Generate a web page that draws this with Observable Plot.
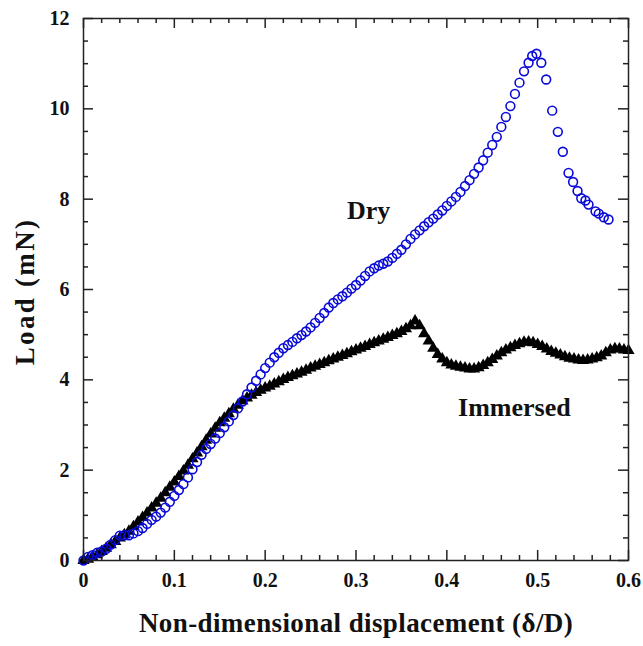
<!DOCTYPE html>
<html>
<head>
<meta charset="utf-8">
<script src="https://cdn.jsdelivr.net/npm/d3@7"></script>
<script src="https://cdn.jsdelivr.net/npm/@observablehq/plot@0.6"></script>
</head>
<body style="margin:0">
<div id="chart"></div>
<script>
// ---- Data ----
const dryX = [0,0.005,0.01,0.015,0.02,0.025,0.03,0.035,0.04,0.045,0.05,0.055,0.06,0.065,0.07,0.075,0.08,0.085,0.09,0.095,
  0.1,0.105,0.11,0.115,0.12,0.125,0.13,0.135,0.14,0.145,0.15,0.155,0.16,0.165,0.17,0.175,0.18,0.185,0.19,0.195,
  0.2,0.205,0.21,0.215,0.22,0.225,0.23,0.235,0.24,0.245,0.25,0.255,0.26,0.265,0.27,0.275,0.28,0.285,0.29,0.295,
  0.3,0.305,0.31,0.315,0.32,0.325,0.33,0.335,0.34,0.345,0.35,0.355,0.36,0.365,0.37,0.375,0.38,0.385,0.39,0.395,
  0.4,0.405,0.41,0.415,0.42,0.425,0.43,0.435,0.44,0.445,0.45,0.455,0.46,0.465,0.47,0.475,0.48,0.485,0.49,
  0.494,0.4987,0.504,0.5094,0.516,0.5222,0.5277,0.534,0.539,0.5439,0.548,0.5526,0.556,0.5637,0.5673,0.5728,0.578];
const dryLoad = [0,0.08,0.12,0.17,0.2,0.26,0.35,0.45,0.55,0.56,0.56,0.6,0.65,0.72,0.81,0.9,0.97,1.06,1.17,1.3,
  1.43,1.56,1.69,1.84,2.02,2.18,2.34,2.47,2.58,2.7,2.82,2.95,3.08,3.22,3.37,3.52,3.68,3.83,3.98,4.12,
  4.26,4.38,4.5,4.6,4.7,4.77,4.84,4.92,4.99,5.07,5.16,5.26,5.37,5.48,5.6,5.7,5.78,5.85,5.93,6.02,
  6.1,6.2,6.3,6.4,6.47,6.53,6.57,6.62,6.7,6.79,6.88,7.0,7.12,7.22,7.31,7.4,7.49,7.57,7.66,7.75,
  7.85,7.95,8.05,8.16,8.29,8.42,8.56,8.7,8.86,9.03,9.2,9.38,9.6,9.82,10.06,10.33,10.58,10.83,11.02,
  11.17,11.22,11.02,10.65,9.96,9.49,9.05,8.58,8.38,8.18,8.02,7.97,7.88,7.73,7.68,7.6,7.55];

const immX = [0,0.005,0.01,0.015,0.02,0.025,0.03,0.035,0.04,0.045,0.05,0.055,0.06,0.065,0.07,0.075,0.08,0.085,0.09,0.095,
  0.1,0.105,0.11,0.115,0.12,0.125,0.13,0.135,0.14,0.145,0.15,0.155,0.16,0.165,0.17,0.175,0.18,0.185,0.19,0.195,
  0.2,0.205,0.21,0.215,0.22,0.225,0.23,0.235,0.24,0.245,0.25,0.255,0.26,0.265,0.27,0.275,0.28,0.285,0.29,0.295,
  0.3,0.305,0.31,0.315,0.32,0.325,0.33,0.335,0.34,0.345,0.35,0.355,0.36,0.365,0.37,0.375,0.38,0.385,0.39,0.395,
  0.4,0.405,0.41,0.415,0.42,0.425,0.43,0.435,0.44,0.445,0.45,0.455,0.46,0.465,0.47,0.475,0.48,0.485,0.49,0.495,
  0.5,0.505,0.51,0.515,0.52,0.525,0.53,0.535,0.54,0.545,0.55,0.555,0.56,0.565,0.57,0.575,0.58,0.585,0.59,0.595,0.6];
const immLoad = [0,0.03,0.08,0.13,0.2,0.27,0.35,0.42,0.5,0.57,0.65,0.75,0.85,0.95,1.05,1.16,1.27,1.38,1.5,1.62,
  1.74,1.86,1.98,2.11,2.25,2.38,2.52,2.66,2.8,2.93,3.05,3.15,3.25,3.35,3.44,3.53,3.6,3.66,3.72,3.77,
  3.82,3.86,3.91,3.96,4.01,4.05,4.09,4.13,4.17,4.21,4.26,4.3,4.34,4.38,4.42,4.46,4.5,4.54,4.58,4.62,
  4.66,4.7,4.74,4.78,4.82,4.86,4.9,4.94,4.98,5.02,5.07,5.13,5.2,5.3,5.2,5.02,4.86,4.7,4.56,4.46,
  4.38,4.33,4.3,4.28,4.26,4.24,4.24,4.27,4.32,4.38,4.45,4.53,4.6,4.66,4.71,4.76,4.8,4.83,4.84,4.82,
  4.78,4.74,4.68,4.63,4.59,4.55,4.51,4.48,4.46,4.44,4.43,4.44,4.46,4.49,4.53,4.6,4.66,4.69,4.68,4.66,4.65];

const xMajor = [0, 0.1, 0.2, 0.3, 0.4, 0.5, 0.6];
const xTickLabels = ["0", "0.1", "0.2", "0.3", "0.4", "0.5", "0.6"];
const xMinor = [0.02,0.04,0.06,0.08,0.12,0.14,0.16,0.18,0.22,0.24,0.26,0.28,0.32,0.34,0.36,0.38,0.42,0.44,0.46,0.48,0.52,0.54,0.56,0.58];
const yMajor = [0, 2, 4, 6, 8, 10, 12];
const yTickLabels = ["0", "2", "4", "6", "8", "10", "12"];
const yMinor = [0.5,1,1.5,2.5,3,3.5,4.5,5,5.5,6.5,7,7.5,8.5,9,9.5,10.5,11,11.5];

const seriesNames = ["Dry", "Immersed"];
const labelX = [0.3138, 0.4743];
const labelY = [7.755, 3.39];

const xTitle = "Non-dimensional displacement (\u03b4/D)";
const yTitle = "Load (mN)";

// ---- Build tables ----
const dry = dryX.map((x, i) => ({x, y: dryLoad[i]}));
const immersed = immX.map((x, i) => ({x, y: immLoad[i]}));
const labels = seriesNames.map((t, i) => ({t, x: labelX[i], y: labelY[i]}));

const FONT = "'Liberation Serif', 'Times New Roman', serif";
const W = 643, H = 646, ML = 83, MR = 15, MT = 18, MB = 86;
const PW = W - ML - MR, PH = H - MT - MB;
const MAJ = 10, MIN = 5;
const tk = {stroke: "#222", strokeWidth: 1.5};

const chart = Plot.plot({
  width: W,
  height: H,
  marginLeft: ML,
  marginRight: MR,
  marginTop: MT,
  marginBottom: MB,
  style: {fontFamily: FONT, fontWeight: "bold", color: "#111", background: "#fff"},
  x: {domain: [0, 0.6], label: null},
  y: {domain: [0, 12], label: null},
  marks: [
    Plot.dot(immersed, {x: "x", y: "y", symbol: "triangle", r: 4.5, fill: "#000", stroke: "none"}),
    Plot.dot(dry, {x: "x", y: "y", r: 4.4, stroke: "#0a0ad8", strokeWidth: 1.6, fill: "none"}),
    // tick labels
    Plot.axisX(xMajor, {anchor: "bottom", tickSize: 0, tickPadding: 12, label: null,
      tickFormat: (d, i) => xTickLabels[i], fontSize: 20, fill: "#111"}),
    Plot.axisY(yMajor, {anchor: "left", tickSize: 0, tickPadding: 14, label: null,
      tickFormat: (d, i) => yTickLabels[i], fontSize: 20, fill: "#111"}),
    // series labels
    Plot.text(labels, {x: "x", y: "y", text: "t", fontSize: 26, fontWeight: "bold", fill: "#111",
      textAnchor: "middle", lineAnchor: "middle"}),
    // axis titles
    Plot.text([xTitle], {frameAnchor: "bottom", dy: 62.7, text: d => d, fontSize: 27, fontWeight: "bold",
      fill: "#111", textAnchor: "middle", lineAnchor: "middle"}),
    Plot.text([yTitle], {frameAnchor: "left", dx: -58.3, dy: 2, rotate: -90, text: d => d, fontSize: 27,
      fontWeight: "bold", fill: "#111", textAnchor: "middle", lineAnchor: "middle"}),
    // frame and inward ticks on all four sides (drawn last)
    Plot.frame({stroke: "#222", strokeWidth: 1.5}),
    Plot.tickX(xMajor, {x: d => d, insetTop: PH - MAJ, ...tk}),
    Plot.tickX(xMajor, {x: d => d, insetBottom: PH - MAJ, ...tk}),
    Plot.tickX(xMinor, {x: d => d, insetTop: PH - MIN, ...tk}),
    Plot.tickX(xMinor, {x: d => d, insetBottom: PH - MIN, ...tk}),
    Plot.tickY(yMajor, {y: d => d, insetRight: PW - MAJ, ...tk}),
    Plot.tickY(yMajor, {y: d => d, insetLeft: PW - MAJ, ...tk}),
    Plot.tickY(yMinor, {y: d => d, insetRight: PW - MIN, ...tk}),
    Plot.tickY(yMinor, {y: d => d, insetLeft: PW - MIN, ...tk})
  ]
});

d3.select(chart).selectAll("text").filter(function () { return this.textContent === yTitle; })
  .attr("letter-spacing", "2.3px");
d3.select(chart).selectAll("text").filter(function () { return this.textContent === xTitle; })
  .attr("letter-spacing", "0.4px");

document.getElementById("chart").appendChild(chart);
</script>
</body>
</html>
